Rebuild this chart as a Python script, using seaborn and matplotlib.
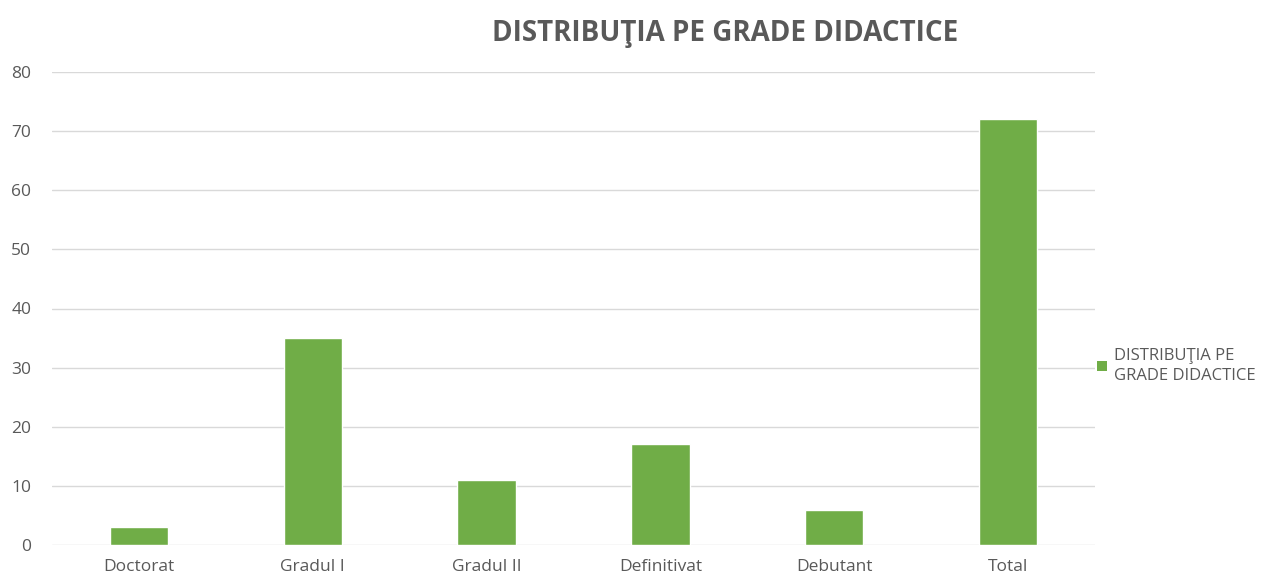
import matplotlib
matplotlib.use("Agg")
import matplotlib.pyplot as plt
import seaborn as sns
import pandas as pd
from matplotlib.patches import Patch

categories = ["Doctorat", "Gradul I", "Gradul II", "Definitivat", "Debutant", "Total"]
values = [3, 35, 11, 17, 6, 72]
series_name = "DISTRIBUŢIA PE GRADE DIDACTICE"
legend_label = "DISTRIBUŢIA PE\nGRADE DIDACTICE"

sns.set_theme(style="white")
plt.rcParams['font.family'] = ['Open Sans', 'DejaVu Sans']

df = pd.DataFrame({"cat": categories, "val": values})

fig = plt.figure(figsize=(12.73, 5.81), dpi=100)
ax = fig.add_axes([52/1273, 1-545/581, (1095-52)/1273, (545-72)/581])

bar_color = "#70ad47"
text_color = "#595959"
sns.barplot(data=df, x="cat", y="val", color=bar_color, width=0.335, ax=ax, saturation=1)

ax.set_ylim(0, 80)
ax.set_yticks(range(0, 81, 10))
ax.yaxis.grid(True, color="#d9d9d9", linewidth=1)
ax.set_axisbelow(True)
for s in ax.spines.values():
    s.set_visible(False)
ax.set_xlabel("")
ax.set_ylabel("")
ax.tick_params(axis="both", length=0, labelsize=12.5, colors=text_color)
ax.tick_params(axis="y", pad=15)
ax.tick_params(axis="x", pad=10)
ax.set_xlim(-0.5, len(categories) - 0.5)

fig.text(725/1273, 1-33/581, series_name, ha="center", va="center",
         fontsize=20, fontweight="bold", color=text_color)

handle = Patch(facecolor=bar_color, edgecolor="none")
leg = fig.legend([handle], [legend_label], loc="center left",
                 bbox_to_anchor=(1082/1273, 1-366/581), frameon=False,
                 fontsize=12, labelcolor=text_color, handlelength=0.6,
                 handleheight=0.6, handletextpad=0.4)
for t in leg.get_texts():
    t.set_linespacing(1.35)

fig.savefig("out.png", dpi=100)
